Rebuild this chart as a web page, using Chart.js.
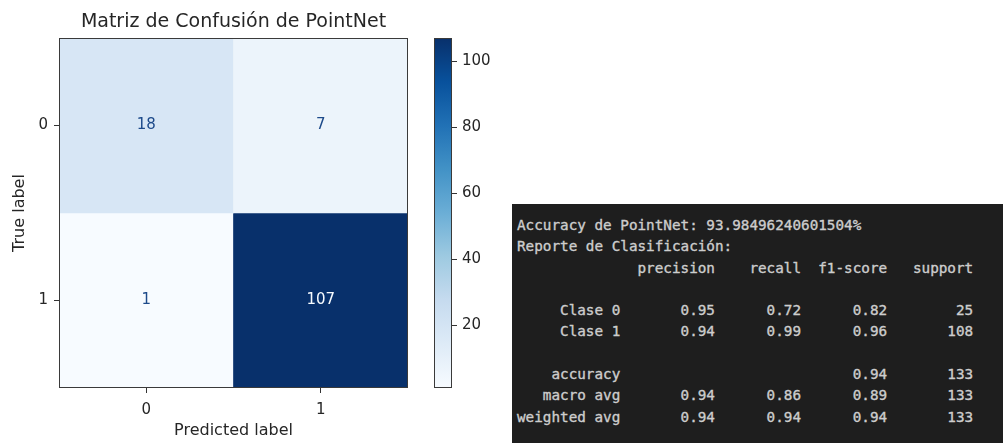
<!DOCTYPE html>
<html>
<head>
<meta charset="utf-8">
<script src="https://cdn.jsdelivr.net/npm/chart.js@4.4.0/dist/chart.umd.min.js"></script>
<style>
  html, body { margin: 0; padding: 0; background: #ffffff; width: 1003px; height: 443px; overflow: hidden; }
  #matrixWrap { position: absolute; left: 0; top: 0; width: 420px; height: 443px; }
  #cbarWrap { position: absolute; left: 420px; top: 0; width: 80px; height: 443px; }
  #report {
    position: absolute; left: 512px; top: 204px; width: 491px; height: 239px;
    margin: 0; padding: 11px 0 0 5px; box-sizing: border-box;
    background: #1e1e1e; color: #cdcdcd;
    font-family: "DejaVu Sans Mono", "Liberation Mono", monospace;
    -webkit-text-stroke: 0.35px #cdcdcd;
    font-size: 14.3px; line-height: 21.3px; white-space: pre;
  }
</style>
</head>
<body>
<div id="matrixWrap"><canvas id="matrix"></canvas></div>
<div id="cbarWrap"><canvas id="cbar"></canvas></div>
<pre id="report"></pre>
<script>
// Confusion matrix: rows = true label, columns = predicted label
const predictedLabels = ['0', '1'];
const trueLabels = ['0', '1'];
const matrixRow0 = [18, 7];
const matrixRow1 = [1, 107];
const colorbarTicks = [20, 40, 60, 80, 100];
const chartTitle = 'Matriz de Confusión de PointNet';

// Classification report
const classNames = ['Clase 0', 'Clase 1'];
const precision = [0.95, 0.94];
const recall = [0.72, 0.99];
const f1Score = [0.82, 0.96];
const support = [25, 108];
const accuracyPct = '93.98496240601504';
const accuracy = 0.94;
const macroAvg = [0.94, 0.86, 0.89];
const weightedAvg = [0.94, 0.94, 0.94];
const totalSupport = 133;

const rows = [matrixRow0, matrixRow1];
const allValues = rows.flat();
const vmin = Math.min(...allValues);
const vmax = Math.max(...allValues);

// "Blues" colour map
const bluesStops = ['#f7fbff', '#deebf7', '#c6dbef', '#9ecae1', '#6baed6', '#4292c6', '#2171b5', '#08519c', '#08306b'];
function hexToRgb(h) { return [1, 3, 5].map(i => parseInt(h.slice(i, i + 2), 16)); }
function blues(t) {
  t = Math.max(0, Math.min(1, t));
  const p = t * (bluesStops.length - 1);
  const i = Math.min(Math.floor(p), bluesStops.length - 2);
  const f = p - i;
  const a = hexToRgb(bluesStops[i]), b = hexToRgb(bluesStops[i + 1]);
  const c = a.map((v, k) => Math.round(v + (b[k] - v) * f));
  return `rgb(${c[0]},${c[1]},${c[2]})`;
}

const FONT = 'DejaVu Sans';
const TEXT = '#262626';

const framePlugin = {
  id: 'frame',
  afterDraw(chart) {
    const { ctx, chartArea: a } = chart;
    ctx.save();
    ctx.strokeStyle = '#3a3a3a';
    ctx.lineWidth = 1;
    ctx.strokeRect(Math.round(a.left) + 0.5, Math.round(a.top) + 0.5, Math.round(a.right - a.left) - 1, Math.round(a.bottom - a.top) - 1);
    ctx.restore();
  }
};

// Title centred over the plotting area
const axesTitlePlugin = {
  id: 'axesTitle',
  afterDraw(chart) {
    const { ctx, chartArea: a } = chart;
    ctx.save();
    ctx.font = `19px "${FONT}"`;
    ctx.fillStyle = TEXT;
    ctx.textAlign = 'center';
    ctx.textBaseline = 'middle';
    ctx.fillText(chartTitle, (a.left + a.right) / 2, 22);
    ctx.restore();
  }
};

const cellTextPlugin = {
  id: 'cellText',
  afterDatasetsDraw(chart) {
    const ctx = chart.ctx;
    const yScale = chart.scales.y;
    ctx.save();
    ctx.font = `15px "${FONT}"`;
    ctx.textAlign = 'center';
    ctx.textBaseline = 'middle';
    rows.forEach((row, r) => {
      chart.getDatasetMeta(r).data.forEach((bar, c) => {
        const v = row[c];
        ctx.fillStyle = v > (vmin + vmax) / 2 ? '#f7fbff' : '#1d4a8a';
        ctx.fillText(String(v), bar.x, yScale.getPixelForValue(r));
      });
    });
    ctx.restore();
  }
};

new Chart(document.getElementById('matrix'), {
  type: 'bar',
  data: {
    labels: predictedLabels,
    datasets: rows.map((row, r) => ({
      data: row.map(() => [r - 0.5, r + 0.5]),
      backgroundColor: row.map(v => blues((v - vmin) / (vmax - vmin))),
      borderWidth: 0,
      grouped: false,
      barPercentage: 1,
      categoryPercentage: 1
    }))
  },
  options: {
    responsive: true,
    maintainAspectRatio: false,
    animation: false,
    layout: { padding: { left: 0, right: 12, top: 38, bottom: 0 } },
    plugins: {
      legend: { display: false },
      tooltip: { enabled: false },
      title: { display: false }
    },
    scales: {
      x: {
        type: 'category',
        offset: true,
        grid: { display: true, drawOnChartArea: false, offset: false, tickLength: 5, color: '#333' },
        border: { display: false },
        ticks: { color: TEXT, font: { family: FONT, size: 15 }, padding: 8 },
        title: { display: true, text: 'Predicted label', color: TEXT, font: { family: FONT, size: 16 }, padding: { top: 0, bottom: 3 } },
        afterFit(scale) { scale.height = 55; }
      },
      y: {
        type: 'linear',
        min: -0.5,
        max: 1.5,
        reverse: true,
        afterBuildTicks(scale) { scale.ticks = trueLabels.map((_, i) => ({ value: i })); },
        grid: { display: true, drawOnChartArea: false, tickLength: 5, color: '#333' },
        border: { display: false },
        ticks: { color: TEXT, font: { family: FONT, size: 15 }, padding: 6, callback: v => trueLabels[v] },
        title: { display: true, text: 'True label', color: TEXT, font: { family: FONT, size: 16 }, padding: { top: 10, bottom: 0 } },
        afterFit(scale) { scale.width = 59; }
      }
    }
  },
  plugins: [cellTextPlugin, framePlugin, axesTitlePlugin]
});

// Colour bar
new Chart(document.getElementById('cbar'), {
  type: 'bar',
  data: {
    labels: [''],
    datasets: [{
      data: [[vmin, vmax]],
      borderWidth: 0,
      barPercentage: 1,
      categoryPercentage: 1,
      backgroundColor(ctx) {
        const chart = ctx.chart;
        if (!chart.chartArea) return bluesStops[4];
        const y = chart.scales.y;
        const g = chart.ctx.createLinearGradient(0, y.getPixelForValue(vmin), 0, y.getPixelForValue(vmax));
        bluesStops.forEach((c, i) => g.addColorStop(i / (bluesStops.length - 1), c));
        return g;
      }
    }]
  },
  options: {
    responsive: true,
    maintainAspectRatio: false,
    animation: false,
    layout: { padding: { left: 14, right: 0, top: 38, bottom: 55 } },
    plugins: { legend: { display: false }, tooltip: { enabled: false }, title: { display: false } },
    scales: {
      x: { display: false },
      y: {
        type: 'linear',
        position: 'right',
        min: vmin,
        max: vmax,
        afterBuildTicks(scale) { scale.ticks = colorbarTicks.map(v => ({ value: v })); },
        grid: { display: true, drawOnChartArea: false, tickLength: 5, color: '#333' },
        border: { display: false },
        ticks: { color: TEXT, font: { family: FONT, size: 15 }, padding: 5 },
        afterFit(scale) { scale.width = 48; }
      }
    }
  },
  plugins: [framePlugin]
});

// Text report, laid out like sklearn's classification_report
function rpad(s, w) { s = String(s); return ' '.repeat(Math.max(0, w - s.length)) + s; }
const NAME_W = 12;
const lines = [];
lines.push('Accuracy de PointNet: ' + accuracyPct + '%');
lines.push('Reporte de Clasificación:');
lines.push(rpad('', NAME_W) + ' ' + ['precision', 'recall', 'f1-score', 'support'].map(h => ' ' + rpad(h, 9)).join(''));
lines.push('');
classNames.forEach((n, i) => {
  lines.push(rpad(n, NAME_W) + ' ' + [precision[i], recall[i], f1Score[i]].map(v => ' ' + rpad(v.toFixed(2), 9)).join('') + ' ' + rpad(support[i], 9));
});
lines.push('');
lines.push(rpad('accuracy', NAME_W) + ' ' + ' ' + rpad('', 9) + ' ' + rpad('', 9) + ' ' + rpad(accuracy.toFixed(2), 9) + ' ' + rpad(totalSupport, 9));
lines.push(rpad('macro avg', NAME_W) + ' ' + macroAvg.map(v => ' ' + rpad(v.toFixed(2), 9)).join('') + ' ' + rpad(totalSupport, 9));
lines.push(rpad('weighted avg', NAME_W) + ' ' + weightedAvg.map(v => ' ' + rpad(v.toFixed(2), 9)).join('') + ' ' + rpad(totalSupport, 9));
document.getElementById('report').textContent = lines.join('\n');
</script>
</body>
</html>
